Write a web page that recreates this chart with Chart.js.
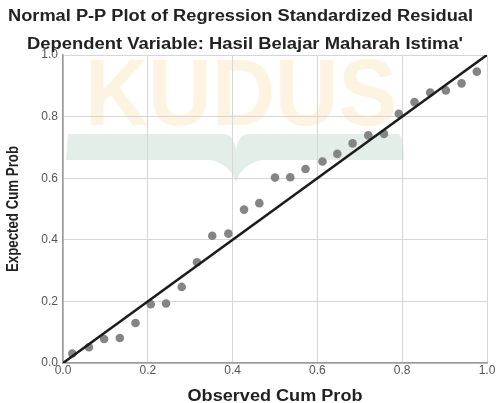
<!DOCTYPE html>
<html>
<head>
<meta charset="utf-8">
<script src="https://cdn.jsdelivr.net/npm/chart.js@4"></script>
<style>
html,body{margin:0;padding:0;background:#fff;}
#wrap{width:496px;height:403px;position:relative;}
</style>
</head>
<body>
<div id="wrap"><canvas id="c" width="496" height="403"></canvas></div>
<script>
const titleLines = ["Normal P-P Plot of Regression Standardized Residual", "Dependent Variable: Hasil Belajar Maharah Istima'"];
const xTitle = "Observed Cum Prob";
const yTitle = "Expected Cum Prob";
const tickValues = [0, 0.2, 0.4, 0.6, 0.8, 1.0];
const observedCumProb = [0.022, 0.061, 0.097, 0.134, 0.171, 0.207, 0.243, 0.280, 0.316, 0.352, 0.390, 0.427, 0.463, 0.500, 0.536, 0.572, 0.612, 0.647, 0.683, 0.720, 0.757, 0.792, 0.829, 0.866, 0.903, 0.940, 0.976];
const expectedCumProb = [0.031, 0.051, 0.078, 0.081, 0.130, 0.191, 0.193, 0.247, 0.327, 0.413, 0.420, 0.498, 0.519, 0.602, 0.603, 0.630, 0.654, 0.679, 0.713, 0.739, 0.744, 0.809, 0.847, 0.878, 0.885, 0.908, 0.946];
const refLine = [[0, 0], [1, 1]];
const watermarkText = "KUDUS";

const points = observedCumProb.map((x, i) => ({x: x, y: expectedCumProb[i]}));
const linePts = refLine.map(p => ({x: p[0], y: p[1]}));

function drawFit(ctx, text, cx, cy, width, font, rot) {
  ctx.save();
  ctx.font = font;
  ctx.textAlign = 'center';
  ctx.textBaseline = 'middle';
  const w = ctx.measureText(text).width;
  ctx.translate(cx, cy);
  if (rot) ctx.rotate(rot);
  ctx.scale(width / w, 1);
  ctx.fillText(text, 0, 0);
  ctx.restore();
}

const watermark = {
  id: 'watermark',
  beforeDraw(chart) {
    const ctx = chart.ctx;
    ctx.save();
    ctx.fillStyle = '#fcf4e0';
    ctx.font = 'bold 95px "Liberation Sans"';
    ctx.textBaseline = 'alphabetic';
    ctx.textAlign = 'left';
    ctx.fillText(watermarkText, 85, 125, 312);
    ctx.fillStyle = '#e3eee8';
    ctx.beginPath();
    ctx.moveTo(68, 134);
    ctx.lineTo(225, 134);
    ctx.quadraticCurveTo(234, 136, 236, 150);
    ctx.quadraticCurveTo(238, 136, 247, 134);
    ctx.lineTo(398, 134);
    ctx.quadraticCurveTo(404, 136, 404, 160);
    ctx.lineTo(262, 160);
    ctx.quadraticCurveTo(242, 164, 236, 182);
    ctx.quadraticCurveTo(230, 164, 210, 160);
    ctx.lineTo(66, 160);
    ctx.closePath();
    ctx.fill();
    ctx.restore();
  }
};

const titles = {
  id: 'titles',
  afterDraw(chart) {
    const ctx = chart.ctx;
    ctx.fillStyle = '#222';
    const f = 'bold 16px "Liberation Sans"';
    drawFit(ctx, titleLines[0], 240.5, 17, 465, f, 0);
    drawFit(ctx, titleLines[1], 245, 45, 436, f, 0);
    const a = chart.chartArea;
    drawFit(ctx, xTitle, (a.left + a.right) / 2, 397, 175, 'bold 16px "Liberation Sans"', 0);
    drawFit(ctx, yTitle, 14, (a.top + a.bottom) / 2, 126, 'bold 16px "Liberation Sans"', -Math.PI / 2);
  }
};

new Chart(document.getElementById('c'), {
  type: 'scatter',
  data: {
    datasets: [
      {
        type: 'line',
        data: linePts,
        borderColor: '#1c1c1c',
        borderWidth: 2.6,
        pointRadius: 0,
        fill: false,
        order: 1
      },
      {
        data: points,
        backgroundColor: '#858585',
        borderColor: '#858585',
        borderWidth: 0,
        pointRadius: 4.3,
        order: 2
      }
    ]
  },
  options: {
    responsive: false,
    animation: false,
    events: [],
    layout: {padding: {left: 0, right: 9, top: 55, bottom: 0}},
    plugins: {legend: {display: false}, tooltip: {enabled: false}, title: {display: false}},
    scales: {
      x: {
        type: 'linear', min: 0, max: 1,
        afterBuildTicks(s) { s.ticks = tickValues.map(v => ({value: v})); },
        afterFit(s) { s.height = 40; },
        ticks: {color: '#555', font: {family: '"Liberation Sans"', size: 12}, padding: 0, maxRotation: 0,
          callback: v => v.toFixed(1)},
        grid: {color: '#d6d6d6', lineWidth: 1, drawTicks: false},
        border: {color: '#9a9a9a', width: 1.5},
        title: {display: false}
      },
      y: {
        type: 'linear', min: 0, max: 1,
        afterBuildTicks(s) { s.ticks = tickValues.map(v => ({value: v})); },
        afterFit(s) { s.width = 63; },
        ticks: {color: '#555', font: {family: '"Liberation Sans"', size: 12}, padding: 5,
          callback: v => v.toFixed(1)},
        grid: {color: '#d6d6d6', lineWidth: 1, drawTicks: false},
        border: {color: '#9a9a9a', width: 1.5},
        title: {display: false}
      }
    }
  },
  plugins: [watermark, titles]
});
</script>
</body>
</html>
